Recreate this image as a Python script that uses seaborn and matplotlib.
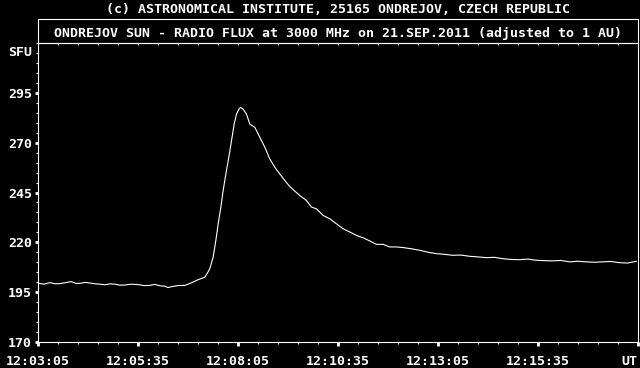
import matplotlib
matplotlib.use("Agg")
import matplotlib.pyplot as plt
import matplotlib.transforms as mtransforms
from matplotlib.patches import Rectangle
from matplotlib.ticker import MultipleLocator
import numpy as np
import pandas as pd
import seaborn as sns

# --- data: seconds after 12:03:05 UT, flux in SFU ---
seconds = [0, 9, 18, 25.5, 33, 42, 49.5, 57, 63, 70.5, 78, 85.5, 93, 100.5,
           108, 115.5, 123, 130.5, 139.5, 150, 159, 168, 175.5, 183, 190.5,
           195, 201, 210, 220.5, 231, 240, 250.5, 255, 258, 263, 267, 270.5,
           274.5, 278, 282, 286.5, 290.5, 294.5, 298, 301.5, 304, 308, 313,
           318, 325.5, 333, 340.5, 348, 355.5, 363, 370.5, 378, 385.5, 393,
           403, 410.5, 418, 428, 438, 448, 458, 468, 478, 488, 498, 508, 518,
           528, 538, 547.5, 560, 573, 586, 598.5, 610, 622.5, 635, 648, 660,
           673.5, 685, 697.5, 710, 723, 735, 748.5, 760, 772.5, 785, 798, 810,
           823.5, 835, 847.5, 860, 873, 885, 898.5]
flux = [199.5, 199.0, 199.8, 199.2, 199.3, 199.8, 200.3, 199.4, 199.4, 199.9,
        199.6, 199.2, 199.0, 198.7, 199.2, 199.0, 198.5, 198.6, 199.0, 198.8,
        198.3, 198.4, 198.9, 198.2, 198.0, 197.3, 197.8, 198.3, 198.4, 199.8,
        201.2, 202.5, 205.0, 206.8, 212.7, 221.0, 229.3, 237.7, 246.0, 254.3,
        262.7, 271.0, 279.3, 284.3, 286.8, 287.7, 286.8, 284.3, 279.3, 277.7,
        272.7, 267.7, 261.8, 257.7, 254.3, 251.0, 248.0, 245.7, 243.5, 241.0,
        237.7, 236.8, 233.5, 231.8, 229.3, 226.8, 225.2, 223.5, 222.3, 220.7,
        219.0, 219.0, 217.7, 217.7, 217.4, 216.8, 216.0, 215.0, 214.3, 214.0,
        213.5, 213.6, 213.0, 212.7, 212.3, 212.5, 211.8, 211.4, 211.3, 211.6,
        211.0, 210.8, 210.7, 210.9, 210.2, 210.5, 210.2, 210.0, 210.2, 210.4,
        209.8, 209.6, 210.5]

x_ticks = [0, 150, 300, 450, 600, 750, 900]
x_tick_labels = ["12:03:05", "12:05:35", "12:08:05", "12:10:35", "12:13:05",
                 "12:15:35", ""]
y_ticks = [170, 195, 220, 245, 270, 295]

header = "(c) ASTRONOMICAL INSTITUTE, 25165 ONDREJOV, CZECH REPUBLIC"
title = "ONDREJOV SUN - RADIO FLUX at 3000 MHz on 21.SEP.2011 (adjusted to 1 AU)"

df = pd.DataFrame({"seconds": seconds, "flux": flux})

sns.set_theme(style="ticks", rc={
    "axes.facecolor": "black",
    "figure.facecolor": "black",
    "axes.edgecolor": "white",
    "text.color": "white",
    "xtick.color": "white",
    "ytick.color": "white",
})
plt.rcParams["font.family"] = ["DejaVu Sans Mono", "DejaVu Sans"]
plt.rcParams["font.weight"] = "bold"

W, H = 640, 368
FS = 9.55
fig = plt.figure(figsize=(6.4, 3.68), dpi=100, facecolor="black")
ax = fig.add_axes([38 / W, 26 / H, 599.5 / W, 299 / H])
sns.lineplot(data=df, x="seconds", y="flux", ax=ax, color="white",
             linewidth=0.8)
ax.set_xlim(0, 900)
ax.set_ylim(170, 320)
ax.set_xlabel("")
ax.set_ylabel("")
for s in ax.spines.values():
    s.set_color("white")
    s.set_linewidth(0.8)

ax.set_xticks(x_ticks)
ax.set_xticklabels(x_tick_labels)
ax.set_yticks(y_ticks)
ax.set_yticklabels([str(v) for v in y_ticks])
ax.xaxis.set_minor_locator(MultipleLocator(30))
ax.yaxis.set_minor_locator(MultipleLocator(5))
ax.tick_params(axis="x", which="major", direction="out", length=3, width=2,
               pad=6.5, labelsize=FS, colors="white")
ax.tick_params(axis="x", which="minor", direction="out", length=1.6, width=0.8,
               colors="white")
ax.tick_params(axis="y", which="major", direction="out", length=2.2, width=2,
               pad=2.2, labelsize=FS, colors="white")
ax.tick_params(axis="y", which="minor", direction="out", length=1.2, width=0.8,
               colors="white")
for lab in ax.get_xticklabels() + ax.get_yticklabels():
    lab.set_fontweight("bold")

# top ticks pointing inward
top = ax.twiny()
top.set_xlim(0, 900)
top.xaxis.set_major_locator(MultipleLocator(30))
top.tick_params(axis="x", which="major", direction="in", length=1.6,
                width=0.8, labeltop=False, colors="white")
for s in top.spines.values():
    s.set_visible(False)

# axis unit labels
bt = mtransforms.blended_transform_factory(fig.transFigure, ax.transData)
ax.text(32.5 / W, 315, "SFU", transform=bt, ha="right", va="center",
        fontsize=FS, fontweight="bold", color="white")
ax.text(637 / W, 1 - 365 / H, "UT", transform=fig.transFigure, ha="right",
        va="baseline", fontsize=FS, fontweight="bold", color="white")

# header box and texts
fig.patches.append(Rectangle((38 / W, 325 / H), 599.5 / W, 24 / H,
                             transform=fig.transFigure, fill=False,
                             edgecolor="white", linewidth=0.8))
fig.text(338 / W, 1 - 36.7 / H, title, ha="center", va="baseline",
         fontsize=FS, fontweight="bold", color="white")
fig.text(338 / W, 1 - 12.7 / H, header, ha="center", va="baseline",
         fontsize=FS, fontweight="bold", color="white")

fig.savefig("out.png", dpi=100, facecolor="black")
